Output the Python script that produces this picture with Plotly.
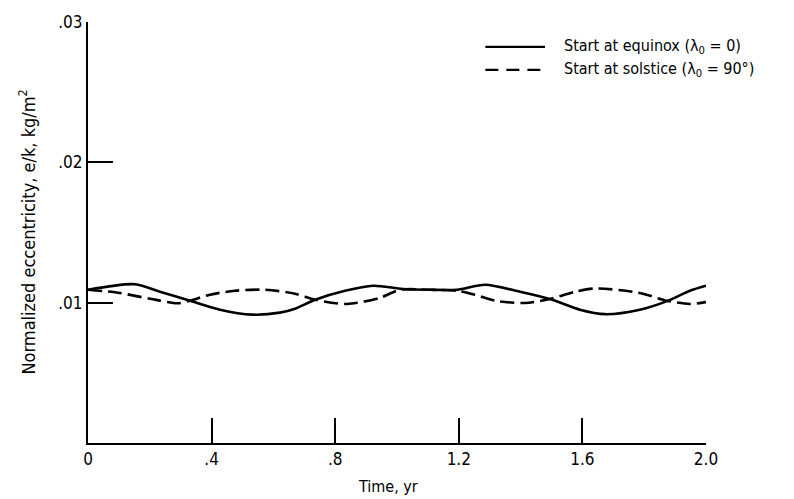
import plotly.graph_objects as go

# Time axis samples (yr) and normalized eccentricity e/k (kg/m^2)
time_equinox = [0.0, 0.152, 0.233, 0.330, 0.427, 0.531, 0.621, 0.670, 0.735, 0.832,
                0.922, 1.019, 1.107, 1.194, 1.285, 1.398, 1.495, 1.592, 1.673, 1.786,
                1.874, 1.948, 2.0]
ecc_equinox = [0.01092, 0.01131, 0.01078, 0.01014, 0.00950, 0.00915, 0.00929, 0.00957,
               0.01021, 0.01085, 0.01121, 0.01097, 0.01092, 0.01092, 0.01128, 0.01078,
               0.01026, 0.00950, 0.00918, 0.00950, 0.01011, 0.01085, 0.01121]

time_solstice = [0.0, 0.097, 0.201, 0.291, 0.330, 0.395, 0.476, 0.573, 0.670, 0.735,
                 0.838, 0.945, 1.010, 1.107, 1.194, 1.252, 1.317, 1.414, 1.495, 1.576,
                 1.641, 1.780, 1.874, 1.948, 2.0]
ecc_solstice = [0.01092, 0.01071, 0.01028, 0.00996, 0.01014, 0.01057, 0.01085, 0.01092,
                0.01064, 0.01021, 0.00991, 0.01035, 0.01092, 0.01092, 0.01085, 0.01057,
                0.01014, 0.00998, 0.01026, 0.01078, 0.01101, 0.01071, 0.01014, 0.00991,
                0.01004]

x_tickvals = [0, 0.4, 0.8, 1.2, 1.6, 2.0]
x_ticktext = ["0", ".4", ".8", "1.2", "1.6", "2.0"]
y_tickvals = [0.01, 0.02, 0.03]
y_ticktext = [".01", ".02", ".03"]

legend_labels = ["Start at equinox (λ<sub>0</sub> = 0)",
                 "Start at solstice (λ<sub>0</sub> = 90°)"]

FONT = "Liberation Sans Narrow, DejaVu Sans Condensed, Arial Narrow, Roboto, sans-serif"

fig = go.Figure()
fig.add_trace(go.Scatter(x=time_equinox, y=ecc_equinox, mode="lines",
                         line=dict(color="black", width=2.6, shape="spline", smoothing=0.8),
                         showlegend=False))
fig.add_trace(go.Scatter(x=time_solstice, y=ecc_solstice, mode="lines",
                         line=dict(color="black", width=2.6, dash="14px,6px",
                                   shape="spline", smoothing=0.8),
                         showlegend=False))

# Hand-drawn style key in the upper right
key_rows = [(0.941, "solid"), (0.8865, "13px,8px")]
for (ky, dash), label in zip(key_rows, legend_labels):
    fig.add_shape(type="line", xref="paper", yref="paper",
                  x0=0.643, x1=0.7395, y0=ky, y1=ky,
                  line=dict(color="black", width=2.2, dash=dash))
    fig.add_annotation(xref="paper", yref="paper", x=0.767, y=ky, text=label,
                       showarrow=False, xanchor="left", yanchor="middle",
                       font=dict(family=FONT, size=16, color="black"))

fig.add_annotation(xref="paper", yref="paper", x=-0.0987, y=0.5,
                   text="Normalized eccentricity, e/k, kg/m<sup>2</sup>",
                   textangle=-90, showarrow=False, xanchor="center", yanchor="middle",
                   font=dict(family=FONT, size=18, color="black"))
fig.add_annotation(xref="paper", yref="paper", x=0.4854, y=-0.104,
                   text="Time, yr", showarrow=False, xanchor="center", yanchor="middle",
                   font=dict(family=FONT, size=16, color="black"))

fig.update_layout(
    width=794, height=499,
    margin=dict(l=88, r=88, t=20, b=56),
    paper_bgcolor="white", plot_bgcolor="white",
    xaxis=dict(range=[0, 2.0], showgrid=False, zeroline=False,
               showline=True, linecolor="black", linewidth=2,
               ticks="inside", ticklen=25, tickwidth=2, tickcolor="black",
               tickvals=x_tickvals, ticktext=x_ticktext,
               tickfont=dict(family=FONT, size=17, color="black")),
    yaxis=dict(range=[0, 0.03], showgrid=False, zeroline=False,
               showline=True, linecolor="black", linewidth=2,
               ticks="inside", ticklen=25, tickwidth=2, tickcolor="black",
               tickvals=y_tickvals, ticktext=y_ticktext,
               tickfont=dict(family=FONT, size=17, color="black")),
)

fig.write_html("out.html")
